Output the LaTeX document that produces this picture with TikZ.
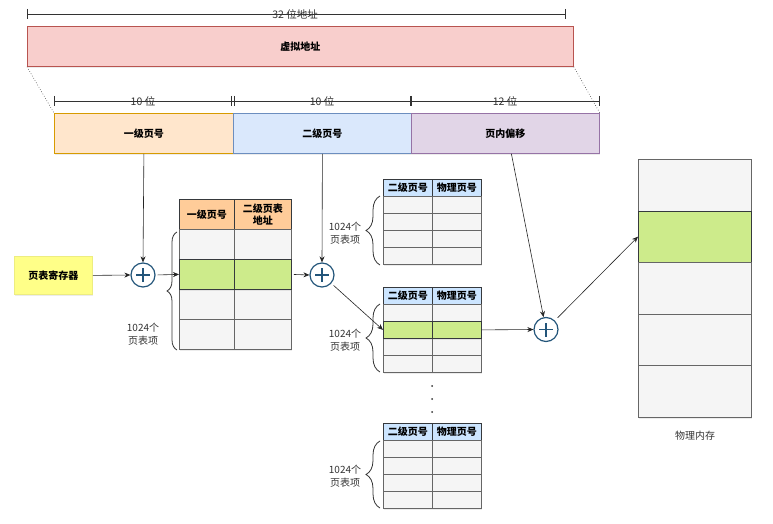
\documentclass[tikz,border=0pt]{standalone}
\usepackage{fontspec}
\setmainfont{Noto Sans CJK SC}
\usetikzlibrary{arrows.meta,decorations.pathreplacing,shadows}

\definecolor{pinkfill}{HTML}{F8CECC}
\definecolor{pinkline}{HTML}{B85450}
\definecolor{orangefill}{HTML}{FFE6CC}
\definecolor{orangeline}{HTML}{D79B00}
\definecolor{bluefill}{HTML}{DAE8FC}
\definecolor{blueline}{HTML}{6C8EBF}
\definecolor{purplefill}{HTML}{E1D5E7}
\definecolor{purpleline}{HTML}{9673A6}
\definecolor{yellowfill}{HTML}{FFFF88}
\definecolor{yellowline}{HTML}{EDED80}
\definecolor{headorange}{HTML}{FFCC99}
\definecolor{headblue}{HTML}{CCE5FF}
\definecolor{darkline}{HTML}{36393D}
\definecolor{cellgray}{HTML}{F5F5F5}
\definecolor{cellline}{HTML}{666666}
\definecolor{rowgreen}{HTML}{CDEB8B}
\definecolor{plusblue}{HTML}{23557A}
\definecolor{textgray}{HTML}{333333}

\tikzset{
  box/.style={draw, anchor=north west, inner sep=0pt, line width=0.8pt,
    font=\bfseries\fontsize{10}{12}\selectfont, align=center,
    drop shadow={opacity=0.15, shadow xshift=1pt, shadow yshift=-2pt}},
  cell/.style={box, fill=cellgray, draw=cellline},
  cellone/.style={cell, minimum height=30pt},
  celltwo/.style={cell, minimum width=49pt, minimum height=17pt},
  headone/.style={box, fill=headorange, draw=darkline, minimum height=30pt},
  headtwo/.style={box, fill=headblue, draw=darkline, minimum width=49pt, minimum height=17pt},
  plus/.style={circle, draw=plusblue, line width=1.2pt, minimum size=24pt, inner sep=0pt,
    path picture={
      \draw[plusblue, line width=1.2pt]
        ([xshift=-7pt]path picture bounding box.center) -- ([xshift=7pt]path picture bounding box.center)
        ([yshift=-7pt]path picture bounding box.center) -- ([yshift=7pt]path picture bounding box.center);
    }},
  arr/.style={draw=black!85, line width=0.6pt, -{Stealth[length=6pt,width=5pt]}},
  dim/.style={draw=textgray, line width=0.8pt},
  dimlabel/.style={text=textgray, font=\fontsize{10.5}{12}\selectfont},
  note/.style={text=textgray, font=\fontsize{10}{13}\selectfont, align=center},
  bracel/.style={draw=textgray, line width=0.8pt, decorate, decoration={brace, amplitude=#1}},
}

\begin{document}
\begin{tikzpicture}[x=1pt, y=-1pt]
    \useasboundingbox (0,0) rectangle (773,524);

    % 32 bit address
    \draw[dim] (27,14) -- (565,14);
    \draw[dim] (27,9) -- (27,19);
    \draw[dim] (565,9) -- (565,19);
    \node[dimlabel] (len32) at (295,14) {32 位地址};
    \node[box, fill=pinkfill, draw=pinkline, minimum width=546pt, minimum height=40pt] (va) at (27,26) {虚拟地址};

    % split in three fields
    \draw[dim] (54,101) -- (599,101);
    \draw[dim] (54,96) -- (54,106);
    \draw[dim] (231,96) -- (231,106);
    \draw[dim] (234,96) -- (234,106);
    \draw[dim, line width=1.4pt] (411,96) -- (411,106);
    \draw[dim] (599,96) -- (599,106);
    \node[dimlabel] (len1) at (143,101) {10 位};
    \node[dimlabel] (len2) at (322,101) {10 位};
    \node[dimlabel] (len3) at (505,101) {12 位};

    \node[box, fill=orangefill, draw=orangeline, minimum width=179pt, minimum height=40pt] (p1) at (54,113) {一级页号};
    \node[box, fill=bluefill, draw=blueline, minimum width=178pt, minimum height=40pt] (p2) at (233,113) {二级页号};
    \node[box, fill=purplefill, draw=purpleline, minimum width=188pt, minimum height=40pt] (off) at (411,113) {页内偏移};
    \draw[textgray, line width=0.6pt, dotted] (va.south west) -- (p1.north west);
    \draw[textgray, line width=0.6pt, dotted] (va.south east) -- (off.north east);

    % first level table
    \node[box, fill=yellowfill, draw=yellowline, minimum width=78pt, minimum height=38pt] (reg) at (14,256) {页表寄存器};
    \node[plus] (plus1) at (143,275) {};

    \node[headone, minimum width=55pt] (t1h1) at (179,199) {一级页号};
    \node[headone, minimum width=57pt] (t1h2) at (234,199) {二级页表\\地址};
    \foreach \y in {229,289,319} {
      \node[cellone, minimum width=55pt] at (179,\y) {};
      \node[cellone, minimum width=57pt] at (234,\y) {};
    }
    \node[cellone, fill=rowgreen, draw=darkline, minimum width=55pt] (t1a) at (179,259) {};
    \node[cellone, fill=rowgreen, draw=darkline, minimum width=57pt] (t1b) at (234,259) {};
    \draw[bracel=10pt] (177,350) -- (177,232);
    \node[note] (n1) at (143,334) {1024个\\页表项};

    \draw[arr] (p1.south) -- (plus1.north);
    \draw[arr] (reg.east) -- (plus1.west);
    \draw[arr, shorten <=2pt] (plus1.east) -- (t1a.west);

    % second level tables
    \node[plus] (plus2) at (322,275) {};
    \foreach \top in {179,287,423} {
      \node[headtwo] at (383,\top) {二级页号};
      \node[headtwo] at (432,\top) {物理页号};
      \foreach \k in {1,...,4} {
        \node[celltwo] at (383,\top+17*\k) {};
        \node[celltwo] at (432,\top+17*\k) {};
      }
    }
    \node[celltwo, fill=rowgreen, draw=darkline] (tBa) at (383,321) {};
    \node[celltwo, fill=rowgreen, draw=darkline] (tBb) at (432,321) {};

    \draw[bracel=14pt] (380,265) -- (380,196);
    \draw[bracel=14pt] (380,372) -- (380,304);
    \draw[bracel=14pt] (380,508) -- (380,441);
    \node[note] (nA) at (345,233) {1024个\\页表项};
    \node[note] (nB) at (345,340) {1024个\\页表项};
    \node[note] (nC) at (345,476) {1024个\\页表项};

    \fill[textgray] (432,386) circle (1pt);
    \fill[textgray] (432,399) circle (1pt);
    \fill[textgray] (432,412) circle (1pt);

    \draw[arr] (p2.south) -- (plus2.north);
    \draw[arr, shorten <=2pt] (t1b.east) -- (plus2.west);
    \draw[arr, shorten <=3pt] (plus2) -- (tBa.west);

    % physical memory
    \node[plus] (plus3) at (546,329.5) {};
    \node[cell, minimum width=113pt, minimum height=51.5pt] (m1) at (638,159) {};
    \node[cell, fill=rowgreen, draw=darkline, minimum width=113pt, minimum height=51.5pt] (m2) at (638,210.5) {};
    \node[cell, minimum width=113pt, minimum height=51.5pt] (m3) at (638,262) {};
    \node[cell, minimum width=113pt, minimum height=51.5pt] (m4) at (638,313.5) {};
    \node[cell, minimum width=113pt, minimum height=51.5pt] (m5) at (638,365) {};
    \node[note] (mem) at (695,436) {物理内存};

    \draw[arr] ([xshift=6pt]off.south) -- (plus3);
    \draw[arr] (tBb.east) -- (plus3.west);
    \draw[arr, shorten <=4pt] (plus3) -- (m2.west);
\end{tikzpicture}
\end{document}
